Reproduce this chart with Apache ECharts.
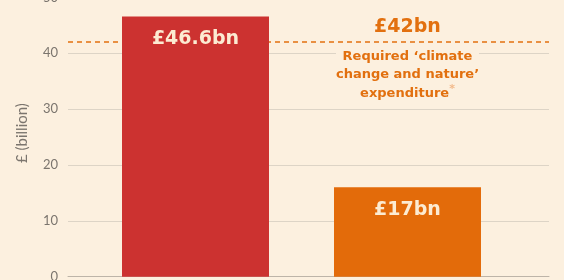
<!DOCTYPE html>
<html><head><meta charset="utf-8">
<script src="https://cdn.jsdelivr.net/npm/echarts@6/dist/echarts.min.js"></script>
<style>html,body{margin:0;padding:0;background:#FCF0DF}#c{width:564px;height:280px}</style>
</head><body><div id="c"></div>
<script>
const categories = ['Current', 'Required'];
const values = [46.6, 16];
const valueLabels = ['£46.6bn', '£17bn'];
const barColors = ['#CC3230', '#E36B0A'];
const requiredValue = 42;
const requiredLabel = '£42bn';
const requiredText = "Required ‘climate\nchange and nature’\nexpenditure{s|*}";
const yTicks = [0, 10, 20, 30, 40, 50];

const chart = echarts.init(document.getElementById('c'), null, {renderer: 'canvas'});
const cream = '#FCF0DF';
const orange = '#E2700F';
const boldFont = 'DejaVu Sans';
chart.setOption({
  backgroundColor: cream,
  animation: false,
  grid: [
    {left: 68, right: 15, top: -2.6, height: 279.3, outerBoundsMode: 'none', containLabel: false},
    {left: 89.5, right: 50.5, top: -2.6, height: 279.3, outerBoundsMode: 'none', containLabel: false}
  ],
  xAxis: [
    {gridIndex: 0, type: 'category', data: categories, axisLabel: {show: false}, axisTick: {show: false},
     axisLine: {show: true, lineStyle: {color: '#BDB4A8', width: 1}}},
    {gridIndex: 1, type: 'category', data: categories, show: false}
  ],
  yAxis: [
    {gridIndex: 0, type: 'value', min: yTicks[0], max: yTicks[yTicks.length - 1], interval: 10,
     name: '£ (billion)', nameLocation: 'middle', nameGap: 38, nameRotate: 90,
     nameTextStyle: {color: '#7B756E', fontFamily: 'Lato', fontSize: 15, padding: [0, 0, 0, 8]},
     axisLine: {show: false}, axisTick: {show: false},
     axisLabel: {color: '#7B756E', fontFamily: 'Lato', fontSize: 13, margin: 10},
     splitLine: {lineStyle: {color: '#DDD4C6', width: 1}}},
    {gridIndex: 1, type: 'value', min: yTicks[0], max: yTicks[yTicks.length - 1], show: false}
  ],
  series: [
    {
      type: 'line', xAxisIndex: 0, yAxisIndex: 0, data: [], silent: true, z: 1,
      markLine: {
        symbol: 'none', silent: true, z: 1,
        lineStyle: {color: orange, type: [5, 4], width: 1.5},
        label: {show: false},
        data: [{yAxis: requiredValue}]
      }
    },
    {
      type: 'bar', xAxisIndex: 1, yAxisIndex: 1, barWidth: 147, z: 5,
      data: values.map((v, i) => ({value: v, itemStyle: {color: barColors[i]}})),
      label: {
        show: true, position: 'insideTop', distance: 13,
        formatter: p => valueLabels[p.dataIndex],
        color: '#FCEBD2', fontFamily: boldFont, fontWeight: 'bold', fontSize: 19
      },
      markPoint: {
        symbol: 'circle', symbolSize: 0, silent: true, z: 6,
        data: [
          {coord: [categories[1], requiredValue],
           label: {show: true, position: 'top', distance: 6, formatter: requiredLabel,
                   color: orange, fontFamily: boldFont, fontWeight: 'bold', fontSize: 19}},
          {coord: [categories[1], requiredValue],
           label: {show: true, position: 'bottom', distance: 5, formatter: requiredText,
                   color: orange, fontFamily: boldFont, fontWeight: 'bold', fontSize: 13,
                   lineHeight: 18.5, align: 'center', width: 143, backgroundColor: cream,
                   padding: [0, 0, 0, 0],
                   rich: {s: {color: '#F2B98A', fontSize: 11, verticalAlign: 'top', fontFamily: boldFont, lineHeight: 18.5}}}}
        ]
      }
    }
  ]
});
</script></body></html>
